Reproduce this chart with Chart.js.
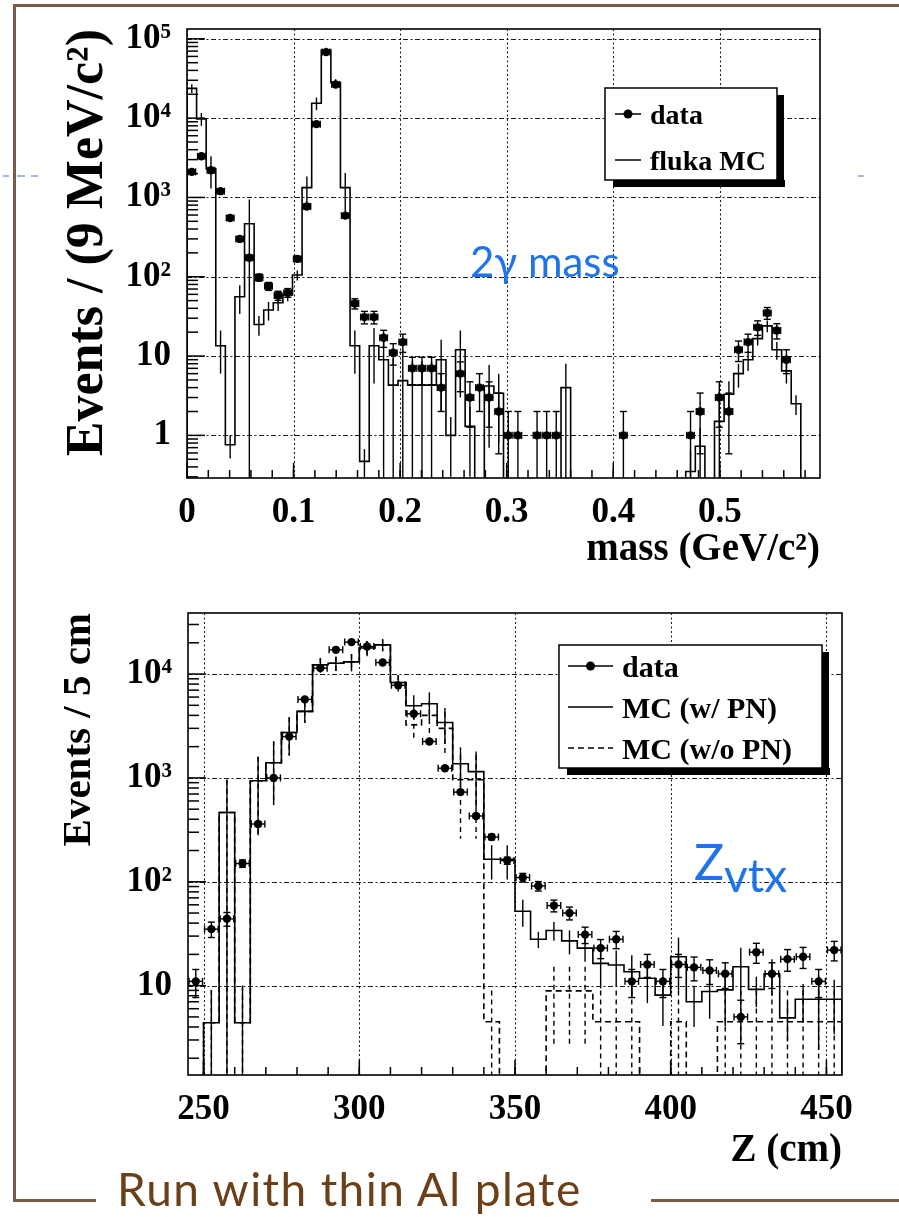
<!DOCTYPE html>
<html><head><meta charset="utf-8">
<script src="https://cdn.jsdelivr.net/npm/chart.js@4.4.1/dist/chart.umd.min.js"></script>
<style>
html,body{margin:0;padding:0;background:#fff;}
body{width:899px;height:1217px;position:relative;overflow:hidden;}
canvas{position:absolute;left:0;top:0;}
.ln{position:absolute;background:#7a5a48;}
.bd{position:absolute;background:#9dbbdc;height:2px;top:175px;}
.ann{position:absolute;font-family:Lato,'Open Sans',sans-serif;line-height:1;white-space:nowrap;}
</style></head><body>
<canvas id="cTop" width="899" height="1217"></canvas>
<canvas id="cBot" width="899" height="1217"></canvas>
<div class="ln" style="left:13px;top:4px;width:886px;height:3px"></div>
<div class="ln" style="left:13px;top:4px;width:3px;height:1198px"></div>
<div class="ln" style="left:13px;top:1199px;width:83px;height:3px"></div>
<div class="ln" style="left:651px;top:1199px;width:248px;height:3px"></div>
<div class="bd" style="left:3px;width:6px"></div>
<div class="bd" style="left:17px;width:8px"></div>
<div class="bd" style="left:31px;width:7px"></div>
<div class="bd" style="left:858px;width:6px"></div>
<div class="ann" style="left:470px;top:240px;font-size:42px;color:#1e74e8">2γ mass</div>
<div class="ann" style="left:694px;top:836px;font-size:50px;color:#1e74e8">Z<span style="position:relative;top:12px;font-size:46px">vtx</span></div>
<div class="ann" style="left:117px;top:1166px;font-size:46px;letter-spacing:1.4px;color:#6b3f17">Run with thin Al plate</div>
<script>
// ---------------- data: 2-photon invariant mass (9 MeV bins from 0) ----------------
const massBinStart = 0.0;
const massBinWidth = 0.009;
const massData = [2100,3300,2200,1200,550,300,174,98,76,58,
  63,168,770,8400,68000,26600,590,46,31,31,
  17,11,15,7,7,7,4,0,6,3,
  4,3,2,1,1,0,1,1,1,0,
  0,0,0,0,0,1,0,0,0,0,
  0,0,1,2,0,3,2,12,15,23,
  35,21,9,0,0,0];
const massMC = [23700,9800,2300,13.5,0.76,56,465,25,38,47,
  59,105,1330,15400,72000,28000,1330,13.5,0.47,13.5,
  9,4.3,4.9,4.3,4.3,4.3,9,1,12,1.3,
  0,4.2,3.4,0,0,0,0,0,0,4,
  0,0,0,0,0,0,0,0,0,0,
  0,0,0.35,0.73,0,1.5,3.3,6,9,16.6,
  24,12,6.5,2.5,0,0];
const massMCErr = [3000,1800,1000,7.5,0.25,22,480,7,10,10,
  10,15,500,2800,5000,3000,700,7.5,0.2,9,
  10,5,7,4.3,4.3,4.3,7,0.7,9,1,
  0,3.5,2.6,0,0,0,0,0,0,4,
  0,0,0,0,0,0,0,0,0,0,
  0,0,0.3,0.5,0,2,1.5,2,2.5,3,
  4,3,2,0.7,0,0];
const massTicks = [0,0.1,0.2,0.3,0.4,0.5];
const massTickLabels = ['0','0.1','0.2','0.3','0.4','0.5'];
const massYTicks = [1,10,100,1000,10000,100000];
const massYTickLabels = ['1','10','10²','10³','10⁴','10⁵'];

// ---------------- data: vertex Z (5 cm bins from 245 cm) ----------------
const zBinStart = 245;
const zBinWidth = 5;
const zData = [11,35,44,150,360,1000,2500,5700,11400,17100,
  20300,18400,12900,7800,4150,2240,1240,730,430,270,
  160,110,91,59,50,31,23,28,11,16,
  11,16,15,14,13,5,21,13,18,19,
  11,22];
const zMCwPN = [0,4.4,465,4.4,940,1400,2740,4370,12300,12700,
  13100,17800,19100,8300,4950,5170,3420,1370,1150,165,
  165,52,28,34,27,23,16.4,15.8,13.6,11.8,
  8.1,19,7,8.8,9.1,15.2,9.2,13,4.9,7.4,
  7.4,7.4];
const zMCwPNErr = [0,4.7,495,5.6,660,850,1100,1000,2000,2000,
  2500,3000,2500,1500,1300,1500,1300,600,650,60,
  60,15,5,7,7,6,7,6,6,5,
  4,10,3,4,5,8,3,5,2,3,
  5,4];
const zMCwoPN = [0,4.4,465,4.4,940,1400,2740,4370,12300,12700,
  13100,17800,19100,8300,3240,4000,3000,960,960,4.5,
  0,0,0,8.9,8.9,8.9,4.5,4.5,4.5,0,
  0,4.5,0,0,4.5,4.5,4.5,4.5,4.5,4.5,
  4.5,4.5];
const zMCwoPNErr = [0,4.7,495,5.6,660,850,1100,1000,2000,2000,
  2500,3000,2500,1500,820,1500,1300,700,700,4.5,
  0,0,0,6.3,6.3,6.3,4.5,4.5,4.5,0,
  0,4.5,0,0,4.5,4.5,4.5,4.5,4.5,4.5,
  4.5,4.5];
const zTicks = [250,300,350,400,450];
const zTickLabels = ['250','300','350','400','450'];
const zYTicks = [10,100,1000,10000];
const zYTickLabels = ['10','10²','10³','10⁴'];

// ---------------- helpers ----------------
const SERIF = "'Liberation Serif','DejaVu Serif',serif";
const FLOOR = 1e-3;
function histPoints(start, w, vals) {
  const pts = [{x: start, y: FLOOR}];
  vals.forEach((v, i) => pts.push({x: start + i * w, y: v > 0 ? v : FLOOR}));
  const last = vals[vals.length - 1];
  pts.push({x: start + vals.length * w, y: last > 0 ? last : FLOOR});
  pts.push({x: start + vals.length * w, y: FLOOR});
  return pts;
}
function dataPoints(start, w, vals) {
  const pts = [];
  vals.forEach((v, i) => { if (v > 0) pts.push({x: start + (i + 0.5) * w, y: v}); });
  return pts;
}
function seg(ctx, x1, y1, x2, y2) { ctx.beginPath(); ctx.moveTo(x1, y1); ctx.lineTo(x2, y2); ctx.stroke(); }

function rootPlugin(cfg) {
  return {
    id: 'root_' + cfg.name,
    beforeDatasetsDraw(chart) {
      const {ctx, chartArea: a, scales: {x, y}} = chart;
      ctx.save();
      ctx.strokeStyle = '#1a1a1a'; ctx.lineWidth = 1.1;
      ctx.setLineDash([2, 2.5]);
      cfg.xGrid.forEach(v => { const p = Math.round(x.getPixelForValue(v)) + 0.5; seg(ctx, p, a.top, p, a.bottom); });
      ctx.setLineDash([5, 2.5, 2, 2.5]);
      cfg.yGrid.forEach(v => { const p = Math.round(y.getPixelForValue(v)) + 0.5; seg(ctx, a.left, p, a.right, p); });
      ctx.restore();
    },
    afterDatasetsDraw(chart) {
      const {ctx, chartArea: a, scales: {x, y}} = chart;
      const ypix = v => (v > 0 ? Math.min(y.getPixelForValue(v), a.bottom + 10) : a.bottom + 10);
      ctx.save();
      ctx.beginPath(); ctx.rect(a.left, a.top, a.right - a.left, a.bottom - a.top); ctx.clip();
      ctx.strokeStyle = '#000';
      // MC error bars
      cfg.mcErrors.forEach(m => {
        ctx.lineWidth = 1.4;
        ctx.setLineDash(m.dash || []);
        m.vals.forEach((v, i) => {
          const e = m.errs[i];
          if (!(v > 0) || !(e > 0)) return;
          const xc = x.getPixelForValue(cfg.start + (i + 0.5) * cfg.width);
          seg(ctx, xc, ypix(v + e), xc, ypix(v - e));
        });
      });
      ctx.setLineDash([]);
      // data error bars (Poisson)
      ctx.lineWidth = 1.4;
      cfg.data.forEach((v, i) => {
        if (!(v > 0)) return;
        const e = Math.sqrt(v);
        const xl = x.getPixelForValue(cfg.start + i * cfg.width);
        const xr = x.getPixelForValue(cfg.start + (i + 1) * cfg.width);
        const xc = (xl + xr) / 2;
        const yc = y.getPixelForValue(v);
        const yt = ypix(v + e), yb = ypix(v - e);
        const c = 3.5;
        seg(ctx, xl + 1, yc, xr - 1, yc);
        seg(ctx, xl + 1, yc - c, xl + 1, yc + c);
        seg(ctx, xr - 1, yc - c, xr - 1, yc + c);
        seg(ctx, xc, yt, xc, yb);
        seg(ctx, xc - c, yt, xc + c, yt);
        if (yb < a.bottom) seg(ctx, xc - c, yb, xc + c, yb);
      });
      ctx.restore();
      // ticks and frame
      ctx.save();
      ctx.strokeStyle = '#000'; ctx.lineWidth = 1.5;
      cfg.xMinor.forEach(v => { const p = x.getPixelForValue(v); seg(ctx, p, a.bottom, p, a.bottom - 8); });
      cfg.xGrid.forEach(v => { const p = x.getPixelForValue(v); seg(ctx, p, a.bottom, p, a.bottom - 15); });
      const lmin = Math.floor(Math.log10(y.min)), lmax = Math.ceil(Math.log10(y.max));
      for (let d = lmin; d <= lmax; d++) {
        for (let m = 1; m <= 9; m++) {
          const v = m * Math.pow(10, d);
          if (v < y.min || v > y.max) continue;
          const p = y.getPixelForValue(v);
          seg(ctx, a.left, p, a.left + (m === 1 ? 18 : 11), p);
        }
      }
      ctx.lineWidth = 1.6;
      ctx.strokeRect(a.left, a.top, a.right - a.left, a.bottom - a.top);
      ctx.restore();
      // legend
      const L = cfg.legend;
      ctx.save();
      ctx.fillStyle = '#000';
      ctx.fillRect(L.x + 8, L.y + L.h, L.w, 7);
      ctx.fillRect(L.x + L.w, L.y + 7, 7, L.h);
      ctx.fillStyle = '#fff';
      ctx.fillRect(L.x, L.y, L.w, L.h);
      ctx.strokeStyle = '#000'; ctx.lineWidth = 1.5;
      ctx.strokeRect(L.x, L.y, L.w, L.h);
      ctx.font = 'bold ' + L.font + 'px ' + SERIF;
      ctx.fillStyle = '#000'; ctx.textBaseline = 'alphabetic';
      L.items.forEach(it => {
        ctx.lineWidth = 1.5;
        ctx.setLineDash(it.dash || []);
        seg(ctx, L.x + L.lx1, it.y, L.x + L.lx2, it.y);
        ctx.setLineDash([]);
        if (it.marker) { ctx.beginPath(); ctx.arc(L.x + (L.lx1 + L.lx2) / 2, it.y, 4.5, 0, 2 * Math.PI); ctx.fill(); }
        ctx.fillText(it.text, L.x + L.tx, it.y + L.font * 0.36);
      });
      ctx.restore();
    }
  };
}

function makeChart(id, o) {
  const datasets = [
    {type: 'scatter', data: dataPoints(o.start, o.width, o.data), pointRadius: 4.2, pointBackgroundColor: '#000', pointBorderColor: '#000', pointBorderWidth: 0, showLine: false}
  ];
  o.hists.forEach(h => datasets.push({type: 'line', data: histPoints(o.start, o.width, h.vals), stepped: 'before', borderColor: '#000', borderWidth: 1.6, borderDash: h.dash || [], pointRadius: 0, fill: false, tension: 0}));
  return new Chart(document.getElementById(id), {
    data: {datasets},
    options: {
      responsive: false, animation: false, events: [],
      layout: {padding: o.padding},
      plugins: {legend: {display: false}, tooltip: {enabled: false}},
      scales: {
        x: {
          type: 'linear', min: o.xMin, max: o.xMax,
          afterBuildTicks: s => { s.ticks = o.xTicks.map(v => ({value: v})); },
          afterFit: s => { s.height = 100; },
          grid: {display: false}, border: {display: false},
          ticks: {autoSkip: false, maxRotation: 0, padding: 6, color: '#000',
            font: {family: SERIF, size: 35, weight: 'bold'},
            callback: (v, i) => o.xTickLabels[i]},
          title: {display: true, text: o.xTitle, align: 'end', color: '#000',
            font: {family: SERIF, size: 39, weight: 'bold'}, padding: {top: 0, bottom: o.xTitlePad}}
        },
        y: {
          type: 'logarithmic', min: o.yMin, max: o.yMax,
          afterBuildTicks: s => { s.ticks = o.yTicks.map(v => ({value: v})); },
          afterFit: s => { s.width = o.yWidth; },
          grid: {display: false}, border: {display: false},
          ticks: {autoSkip: false, padding: 8, color: '#000',
            font: {family: SERIF, size: 35, weight: 'bold'},
            callback: (v, i) => o.yTickLabels[i]},
          title: {display: true, text: o.yTitle, align: 'end', color: '#000',
            font: {family: SERIF, size: o.yTitleSize, weight: 'bold'}, padding: {top: o.yTitlePad, bottom: 0}}
        }
      }
    },
    plugins: [rootPlugin(o)]
  });
}

const massMinor = [];
for (let k = 1; k <= 29; k++) massMinor.push(k * 0.02);
const zMinor = [];
for (let c = 250; c <= 450; c += 10) zMinor.push(c);

makeChart('cTop', {
  name: 'mass', start: massBinStart, width: massBinWidth, data: massData,
  hists: [{vals: massMC}],
  mcErrors: [{vals: massMC, errs: massMCErr}],
  xMin: 0, xMax: 0.594, yMin: 0.29, yMax: 133000,
  xTicks: massTicks, xTickLabels: massTickLabels, yTicks: massYTicks, yTickLabels: massYTickLabels,
  xGrid: massTicks, yGrid: massYTicks, xMinor: massMinor,
  xTitle: 'mass (GeV/c²)', yTitle: 'Events / (9 MeV/c²)', xTitlePad: 5, yTitleSize: 52, yTitlePad: 7,
  padding: {left: 50, top: 25, right: 79, bottom: 639}, yWidth: 137,
  legend: {x: 605, y: 88, w: 172, h: 92, font: 28, lx1: 10, lx2: 36, tx: 45,
    items: [{text: 'data', y: 114, marker: true}, {text: 'fluka MC', y: 160}]}
});

makeChart('cBot', {
  name: 'z', start: zBinStart, width: zBinWidth, data: zData,
  hists: [{vals: zMCwoPN, dash: [6, 4]}, {vals: zMCwPN}],
  mcErrors: [{vals: zMCwoPN, errs: zMCwoPNErr, dash: [5, 4]}, {vals: zMCwPN, errs: zMCwPNErr}],
  xMin: 245, xMax: 455, yMin: 1.38, yMax: 38700,
  xTicks: zTicks, xTickLabels: zTickLabels, yTicks: zYTicks, yTickLabels: zYTickLabels,
  xGrid: zTicks, yGrid: zYTicks, xMinor: zMinor,
  xTitle: 'Z (cm)', yTitle: 'Events / 5 cm', xTitlePad: 1, yTitleSize: 41, yTitlePad: 5,
  padding: {left: 50, top: 613, right: 57, bottom: 42}, yWidth: 138,
  legend: {x: 559, y: 645, w: 263, h: 123, font: 30, lx1: 9, lx2: 54, tx: 63,
    items: [{text: 'data', y: 666, marker: true}, {text: 'MC (w/ PN)', y: 707}, {text: 'MC (w/o PN)', y: 748, dash: [6, 4]}]}
});
</script>
</body></html>
